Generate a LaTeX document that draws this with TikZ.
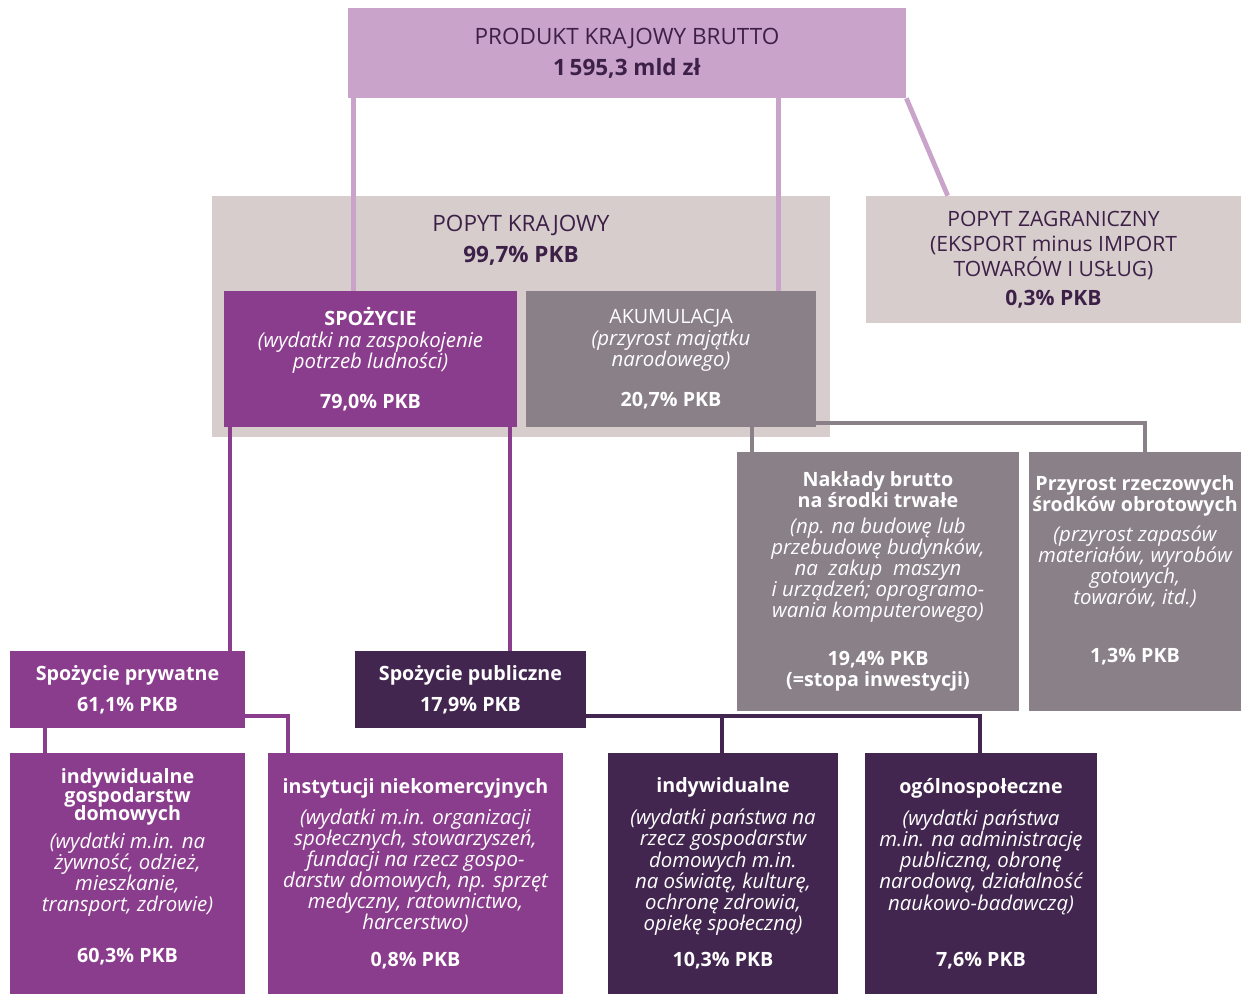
\documentclass[tikz,border=0pt]{standalone}
\usepackage{fontspec}
\setmainfont{Open Sans}
\usetikzlibrary{positioning}

\definecolor{pkbfill}{RGB}{201,163,201}
\definecolor{krajfill}{RGB}{214,205,204}
\definecolor{spozfill}{RGB}{139,61,141}
\definecolor{akumfill}{RGB}{138,128,136}
\definecolor{publfill}{RGB}{66,38,79}
\definecolor{darktext}{RGB}{61,32,72}

\newcommand{\wyt}[1]{\textbf{#1}}
\newcommand{\kur}[1]{{\fontsize{14.5}{15}\selectfont\itshape #1}}

\pgfdeclarelayer{tlo}
\pgfdeclarelayer{linie}
\pgfsetlayers{tlo,linie,main}

\begin{document}
\begin{tikzpicture}[x=0.025cm, y=-0.025cm,
  every node/.style={inner sep=0pt, align=center, font=\fontsize{14}{15}\selectfont},
  blok/.style={rectangle, fill=#1, text=white},
  jasnyblok/.style={rectangle, fill=krajfill, text=darktext, font=\fontsize{15}{17.7}\selectfont},
  linia/.style={line width=2.8pt, draw=#1}]
  \useasboundingbox (0,0) rectangle (1241,994);

  % 背景框：国内需求与国外需求
  \begin{pgfonlayer}{tlo}
    \node[jasnyblok, minimum width=15.45cm, minimum height=6.025cm] (kraj) at (521,316.5) {};
    \node[jasnyblok, minimum width=9.375cm, minimum height=3.175cm] (zagr) at (1053.5,259.5)
      {POPYT ZAGRANICZNY\\ (EKSPORT minus IMPORT\\ TOWARÓW I USŁUG)\\[3pt] \wyt{0,3\% PKB}};
  \end{pgfonlayer}
  \node[text=darktext, font=\fontsize{16}{17}\selectfont] (kraj-t) at (521,240.5)
    {POPYT KRAJOWY\\[5pt] \wyt{99,7\% PKB}};

  % 顶层：国内生产总值
  \node[blok=pkbfill, text=darktext, font=\fontsize{16}{17}\selectfont,
    minimum width=13.95cm, minimum height=2.25cm] (pkb) at (627,53)
    {PRODUKT KRAJOWY BRUTTO\\[5pt] \wyt{1\,595,3 mld zł}};

  % 第二层：消费与积累
  \node[blok=spozfill, minimum width=7.325cm, minimum height=3.4cm] (spoz) at (370.5,359)
    {\wyt{SPOŻYCIE}\\[1pt] \kur{(wydatki na zaspokojenie}\\ \kur{potrzeb ludności)}\\[13pt] \wyt{79,0\% PKB}};
  \node[blok=akumfill, minimum width=7.25cm, minimum height=3.4cm] (akum) at (671,359)
    {AKUMULACJA\\[1pt] \kur{(przyrost majątku}\\ \kur{narodowego)}\\[13pt] \wyt{20,7\% PKB}};

  % 积累的两部分
  \node[blok=akumfill, minimum width=7.05cm, minimum height=6.475cm] (nakl) at (878,581.5)
    {\wyt{Nakłady brutto}\\ \wyt{na środki trwałe}\\[3pt]
     \kur{(np. na budowę lub}\\ \kur{przebudowę budynków,}\\ \kur{na\ \ zakup\ \ maszyn}\\
     \kur{i urządzeń; oprogramo-}\\ \kur{wania komputerowego)}\\[19pt]
     \wyt{19,4\% PKB}\\ \wyt{(=stopa inwestycji)}};
  \node[blok=akumfill, minimum width=5.3cm, minimum height=6.475cm] (przyr) at (1135,581.5)
    {\wyt{Przyrost rzeczowych}\\ \wyt{środków obrotowych}\\[6pt]
     \kur{(przyrost zapasów}\\ \kur{materiałów, wyrobów}\\ \kur{gotowych,}\\
     \kur{towarów, itd.)}\\[26pt] \wyt{1,3\% PKB}\\[3pt] ~};

  % 消费：私人与公共
  \node[blok=spozfill, minimum width=5.875cm, minimum height=1.925cm] (pryw) at (127.5,689.5)
    {\wyt{Spożycie prywatne}\\[7pt] \wyt{61,1\% PKB}};
  \node[blok=publfill, minimum width=5.775cm, minimum height=1.925cm] (publ) at (470.5,689.5)
    {\wyt{Spożycie publiczne}\\[7pt] \wyt{17,9\% PKB}};

  % 最底层四个框
  \node[blok=spozfill, minimum width=5.875cm, minimum height=6.025cm] (indg) at (127.5,873.5)
    {\wyt{indywidualne}\\[-2pt] \wyt{gospodarstw}\\[-2pt] \wyt{domowych}\\[5pt]
     \kur{(wydatki m.in. na}\\ \kur{żywność, odzież,}\\ \kur{mieszkanie,}\\
     \kur{transport, zdrowie)}\\[21pt] \wyt{60,3\% PKB}\\[-4pt] ~};
  \node[blok=spozfill, minimum width=7.375cm, minimum height=6.025cm] (inst) at (415.5,873.5)
    {\wyt{instytucji niekomercyjnych}\\[7pt]
     \kur{(wydatki m.in. organizacji}\\ \kur{społecznych, stowarzyszeń,}\\
     \kur{fundacji na rzecz gospo-}\\ \kur{darstw domowych, np. sprzęt}\\
     \kur{medyczny, ratownictwo,}\\ \kur{harcerstwo)}\\[11pt] \wyt{0,8\% PKB}};
  \node[blok=publfill, minimum width=5.75cm, minimum height=6.025cm] (indp) at (723,873.5)
    {\wyt{indywidualne}\\[8pt]
     \kur{(wydatki państwa na}\\ \kur{rzecz gospodarstw}\\ \kur{domowych m.in.}\\
     \kur{na oświatę, kulturę,}\\ \kur{ochronę zdrowia,}\\ \kur{opiekę społeczną)}\\[11pt]
     \wyt{10,3\% PKB}};
  \node[blok=publfill, minimum width=5.8cm, minimum height=6.025cm] (ogol) at (981,873.5)
    {\wyt{ogólnospołeczne}\\[8pt]
     \kur{(wydatki państwa}\\ \kur{m.in. na administrację}\\ \kur{publiczną, obronę}\\
     \kur{narodową, działalność}\\ \kur{naukowo-badawczą)}\\[25pt] \wyt{7,6\% PKB}};

  % 连接点
  \coordinate (pkb-l) at ([xshift=0.15cm]pkb.south west);
  \coordinate (akum-in) at ([xshift=-0.95cm]akum.north east);
  \coordinate (zagr-in) at ([xshift=2.05cm]zagr.north west);
  \coordinate (spoz-l) at ([xshift=0.15cm]spoz.south west);
  \coordinate (spoz-r) at ([xshift=-0.175cm]spoz.south east);
  \coordinate (nakl-in) at ([xshift=0.375cm]nakl.north west);
  \coordinate (przyr-in) at ([xshift=0.25cm]przyr.north);
  \coordinate (bus) at ([yshift=0.1cm]akum.south);
  \coordinate (pryw-l) at ([xshift=0.875cm]pryw.south west);
  \coordinate (pryw-out) at ([yshift=0.3cm]pryw.south east);
  \coordinate (inst-in) at ([xshift=0.5cm]inst.north west);
  \coordinate (publ-out) at ([yshift=0.3cm]publ.south east);
  \coordinate (indp-in) at ([xshift=2.85cm]indp.north west);
  \coordinate (ogol-in) at ([xshift=2.875cm]ogol.north west);

  % 连线
  \begin{pgfonlayer}{linie}
    \draw[linia=pkbfill, line width=3.4pt] (pkb-l) -- (pkb-l |- spoz.north);
    \draw[linia=pkbfill, line width=3.4pt] (akum-in |- pkb.south) -- (akum-in);
    \draw[linia=pkbfill, line width=3.4pt] (pkb.south east) -- (zagr-in);
    \draw[linia=akumfill] (nakl-in) |- (bus -| przyr-in) -- (przyr-in);
    \draw[linia=spozfill] (spoz-l) -- (spoz-l |- pryw.north);
    \draw[linia=spozfill] (spoz-r) -- (spoz-r |- publ.north);
    \draw[linia=spozfill] (pryw-l) -- (pryw-l |- indg.north);
    \draw[linia=spozfill] (pryw-out) -| (inst-in);
    \draw[linia=publfill] (publ-out) -| (ogol-in);
    \draw[linia=publfill] (indp-in) -- (indp-in |- publ-out);
  \end{pgfonlayer}
\end{tikzpicture}
\end{document}
